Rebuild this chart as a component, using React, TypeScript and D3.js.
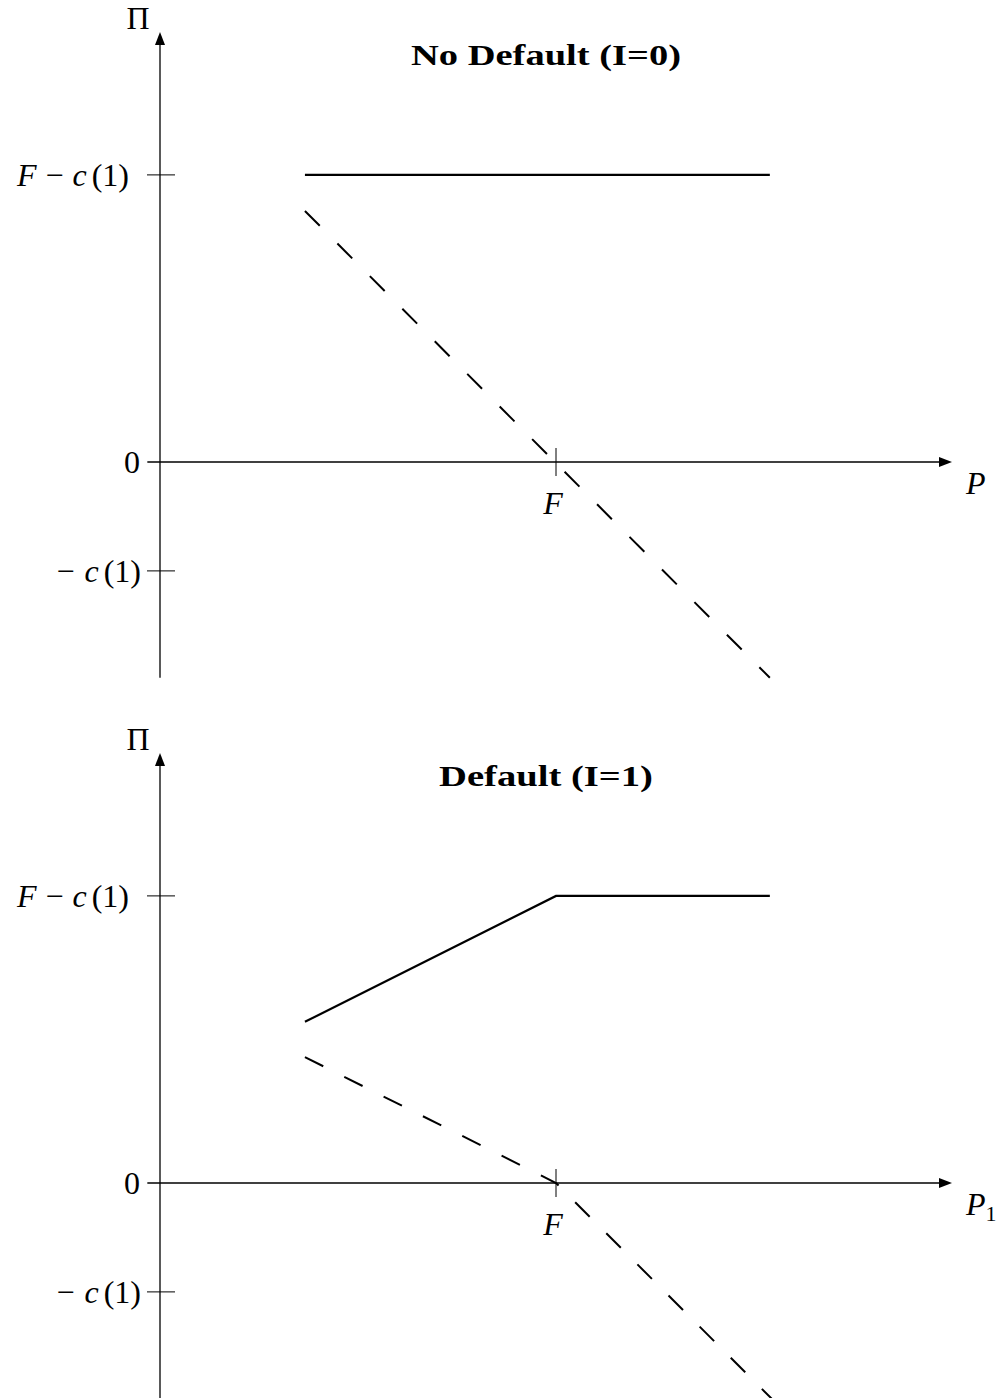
import * as d3 from "d3";

// values, in units where F = 1
const F = 1;
const C1 = 0.275;
const yTicks = [
  { v: F - C1, label: "F-c" },
  { v: 0, label: "0" },
  { v: -C1, label: "-c" },
];

const noDefaultSolid = [
  { p: 0.366, v: 0.725 },
  { p: 1.54, v: 0.725 },
];
const noDefaultDashed = [
  { p: 0.366, v: 0.634 },
  { p: 1.54, v: -0.545 },
];
const defaultSolid = [
  { p: 0.366, v: 0.407 },
  { p: 1.0, v: 0.725 },
  { p: 1.54, v: 0.725 },
];
const defaultDashed = [
  { p: 0.366, v: 0.318 },
  { p: 1.0, v: 0 },
  { p: 1.545, v: -0.545 },
];

const panels = [
  { title: "No Default (I=0)", titleW: 270, xLabel: "P", sub: "", solid: noDefaultSolid, dashed: noDefaultDashed, yMin: -0.545, dash: "21 25" },
  { title: "Default (I=1)", titleW: 214, xLabel: "P", sub: "1", solid: defaultSolid, dashed: defaultDashed, yMin: -0.56, dash: "20.5 23.5" },
];

const W = 999;
const H = 1398;
const unit = 396;
const originX = 160;
const originYs = [462, 1183];
const mathFont = "'Liberation Serif', 'DejaVu Serif', serif";

const Panel = ({ panel, y0 }) => {
  const x = d3.scaleLinear().domain([0, 1]).range([originX, originX + unit]);
  const y = d3.scaleLinear().domain([0, 1]).range([y0, y0 - unit]);
  const line = d3
    .line()
    .x((d) => x(d.p))
    .y((d) => y(d.v));
  const topY = y(1.086);
  const fs = 32;

  return (
    <g>
      {/* axes */}
      <line x1={x(0)} x2={x(0)} y1={y(panel.yMin)} y2={topY + 8} stroke="#000" strokeWidth={1.3} />
      <path d={`M${x(0)},${topY} l-5,13 l10,0 z`} fill="#000" />
      <line x1={x(-0.032)} x2={x(2.0) - 8} y1={y(0)} y2={y(0)} stroke="#000" strokeWidth={1.3} />
      <path d={`M${x(2.0)},${y(0)} l-13,-5 l0,10 z`} fill="#000" />

      {/* y ticks */}
      {yTicks
        .filter((t) => t.v !== 0)
        .map((t) => (
          <line key={t.label} x1={147} x2={175} y1={y(t.v)} y2={y(t.v)} stroke="#000" strokeWidth={1} />
        ))}
      <text x={129} y={y(F - C1) + 11} fontFamily={mathFont} fontSize={fs} textAnchor="end">
        <tspan fontStyle="italic">F</tspan>
        <tspan dx={9}>−</tspan>
        <tspan dx={9} fontStyle="italic">c</tspan>
        <tspan dx={5}>(1)</tspan>
      </text>
      <text x={140} y={y(0) + 11} fontFamily={mathFont} fontSize={fs} textAnchor="end">
        0
      </text>
      <text x={141} y={y(-C1) + 11} fontFamily={mathFont} fontSize={fs} textAnchor="end">
        <tspan>−</tspan>
        <tspan dx={10} fontStyle="italic">c</tspan>
        <tspan dx={5}>(1)</tspan>
      </text>

      {/* F tick */}
      <line x1={x(F)} x2={x(F)} y1={y(0) - 14} y2={y(0) + 14} stroke="#000" strokeWidth={1} />
      <text x={x(F) - 3} y={y(0) + 52} fontFamily={mathFont} fontSize={fs} fontStyle="italic" textAnchor="middle">
        F
      </text>

      {/* axis labels */}
      <text x={138} y={topY - 3} fontFamily={mathFont} fontSize={fs} textAnchor="middle">
        Π
      </text>
      <text x={966} y={y(0) + 32} fontFamily={mathFont} fontSize={fs} fontStyle="italic">
        {panel.xLabel}
        {panel.sub && (
          <tspan fontStyle="normal" fontSize={22} dy={6}>
            {panel.sub}
          </tspan>
        )}
      </text>

      {/* title */}
      <text
        x={546}
        y={y0 - 397}
        fontFamily={mathFont}
        fontSize={29}
        fontWeight="bold"
        textAnchor="middle"
        textLength={panel.titleW}
        lengthAdjust="spacingAndGlyphs"
      >
        {panel.title}
      </text>

      {/* curves */}
      <path d={line(panel.solid)} fill="none" stroke="#000" strokeWidth={2.2} />
      <path d={line(panel.dashed)} fill="none" stroke="#000" strokeWidth={2} strokeDasharray={panel.dash} />
    </g>
  );
};

export default function App() {
  return (
    <svg width={W} height={H} style={{ position: "absolute", left: 0, top: 0, background: "#fff" }}>
      {panels.map((p, i) => (
        <Panel key={p.title} panel={p} y0={originYs[i]} />
      ))}
    </svg>
  );
}
